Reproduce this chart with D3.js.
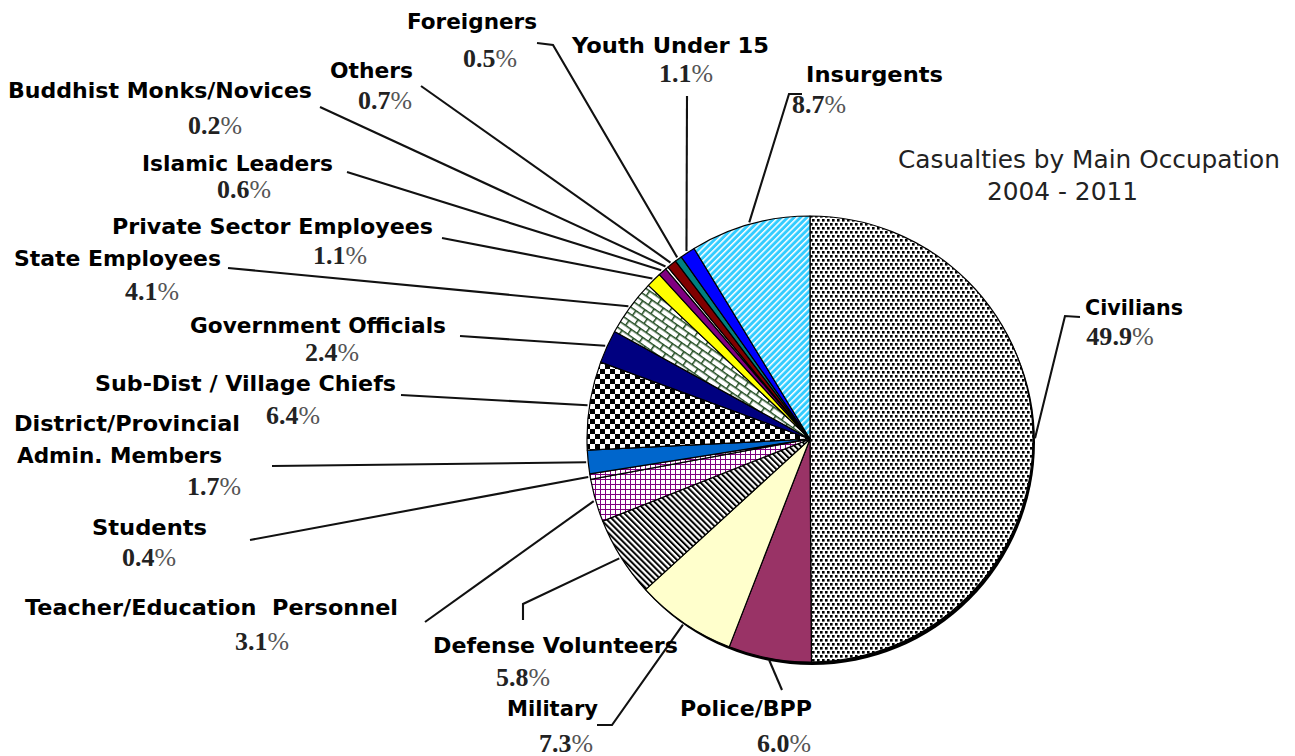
<!DOCTYPE html>
<html>
<head>
<meta charset="utf-8">
<script src="https://cdn.jsdelivr.net/npm/d3@7"></script>
<style>
  html, body { margin: 0; padding: 0; background: #fff; }
  svg { display: block; }
</style>
</head>
<body>
<svg id="chart" width="1295" height="756"></svg>
<script>
// Casualties by main occupation, 2004 - 2011 (percent of total), clockwise from 12 o'clock
const categories = [
  "Civilians", "Police/BPP", "Military", "Defense Volunteers",
  "Teacher/Education  Personnel", "Students", "District/Provincial Admin. Members",
  "Sub-Dist / Village Chiefs", "Government Officials", "State Employees",
  "Private Sector Employees", "Islamic Leaders", "Buddhist Monks/Novices",
  "Others", "Foreigners", "Youth Under 15", "Insurgents"
];
const values = [49.9, 6.0, 7.3, 5.8, 3.1, 0.4, 1.7, 6.4, 2.4, 4.1, 1.1, 0.6, 0.2, 0.7, 0.5, 1.1, 8.7];
const titleLines = ["Casualties by Main Occupation", "2004 - 2011"];

// Fill for each slice (solid colour or pattern id)
const sliceFills = [
  "url(#p-dots)", "#993366", "#FFFFCC", "url(#p-diag)",
  "url(#p-grid)", "url(#p-grid)", "#0066CC",
  "url(#p-check)", "#000080", "url(#p-brick)",
  "#FFFF00", "#800080", "#FFFFFF",
  "#800000", "#008080", "#0000FF", "url(#p-cyan)"
];

// Label placement: name lines [left x, right x, baseline], value [centre x, baseline],
// leader start point (and optional elbow) on the label side
const labelLayout = [
  { name: [[1085, 1183, 315]], value: [1120, 345], leader: [[1080, 317], [1065, 316]] },
  { name: [[680, 812, 716]], value: [784, 752], leader: [[782, 690]] },
  { name: [[507, 598, 716]], value: [566, 752], leader: [[597, 725], [612, 725]] },
  { name: [[433, 678, 653]], value: [523, 686], leader: [[523, 620], [523, 604]] },
  { name: [[25, 398, 615]], value: [262, 650], leader: [[425, 622]] },
  { name: [[92, 207, 535]], value: [149, 566], leader: [[250, 540]] },
  { name: [[14, 240, 431], [17, 222, 463]], value: [214, 495], leader: [[272, 466]] },
  { name: [[95, 396, 391]], value: [293, 424], leader: [[401, 395]] },
  { name: [[190, 446, 333]], value: [332, 361], leader: [[460, 336]] },
  { name: [[14, 221, 266]], value: [152, 300], leader: [[228, 268]] },
  { name: [[112, 433, 234]], value: [340, 264], leader: [[442, 238]] },
  { name: [[142, 333, 171]], value: [244, 198], leader: [[347, 172]] },
  { name: [[8, 312, 98]], value: [215, 134], leader: [[320, 107]] },
  { name: [[330, 413, 78]], value: [385, 109], leader: [[421, 86]] },
  { name: [[407, 537, 29]], value: [490, 67], leader: [[537, 43], [553, 45]] },
  { name: [[572, 769, 53]], value: [686, 82], leader: [[687, 96]] },
  { name: [[806, 943, 82]], value: [819, 113], leader: [[802, 94], [789, 94]] }
];
const nameLines = ["District/Provincial", "Admin. Members"];

const svg = d3.select("#chart");
const cx = 810, cy = 439, r = 223;

// ---- pattern fills ----
const defs = svg.append("defs");

// fine staggered dots
const pDots = defs.append("pattern").attr("id", "p-dots").attr("patternUnits", "userSpaceOnUse")
  .attr("width", 10).attr("height", 8);
pDots.append("rect").attr("width", 10).attr("height", 8).attr("fill", "#fff");
[[0, 0], [5, 0], [2, 4], [7, 4]].forEach(([x, y]) =>
  pDots.append("rect").attr("x", x).attr("y", y).attr("width", 2.6).attr("height", 2.6).attr("fill", "#000"));

// black downward diagonal stripes
const pDiag = defs.append("pattern").attr("id", "p-diag").attr("patternUnits", "userSpaceOnUse")
  .attr("width", 4.2).attr("height", 4.2).attr("patternTransform", "rotate(-45)");
pDiag.append("rect").attr("width", 4.2).attr("height", 4.2).attr("fill", "#fff");
pDiag.append("rect").attr("width", 2).attr("height", 4.2).attr("fill", "#000");

// purple grid
const pGrid = defs.append("pattern").attr("id", "p-grid").attr("patternUnits", "userSpaceOnUse")
  .attr("width", 5).attr("height", 5);
pGrid.append("rect").attr("width", 5).attr("height", 5).attr("fill", "#fff");
pGrid.append("rect").attr("width", 5).attr("height", 1).attr("fill", "#800080")
  .attr("shape-rendering", "crispEdges");
pGrid.append("rect").attr("width", 1).attr("height", 5).attr("fill", "#800080")
  .attr("shape-rendering", "crispEdges");

// checkerboard
const pCheck = defs.append("pattern").attr("id", "p-check").attr("patternUnits", "userSpaceOnUse")
  .attr("width", 10).attr("height", 10);
pCheck.append("rect").attr("width", 10).attr("height", 10).attr("fill", "#fff");
pCheck.append("rect").attr("width", 5).attr("height", 5).attr("fill", "#000");
pCheck.append("rect").attr("x", 5).attr("y", 5).attr("width", 5).attr("height", 5).attr("fill", "#000");

// green diagonal brick
const brickColor = "#1F4A1F";
const pBrick = defs.append("pattern").attr("id", "p-brick").attr("patternUnits", "userSpaceOnUse")
  .attr("width", 14).attr("height", 12).attr("patternTransform", "rotate(35)");
pBrick.append("rect").attr("width", 14).attr("height", 12).attr("fill", "#fff");
pBrick.append("rect").attr("width", 14).attr("height", 1.5).attr("fill", brickColor);
pBrick.append("rect").attr("y", 6).attr("width", 14).attr("height", 1.5).attr("fill", brickColor);
pBrick.append("rect").attr("x", 0).attr("y", 0).attr("width", 1.5).attr("height", 6).attr("fill", brickColor);
pBrick.append("rect").attr("x", 7).attr("y", 6).attr("width", 1.5).attr("height", 6).attr("fill", brickColor);

// cyan with white upward diagonal stripes
const pCyan = defs.append("pattern").attr("id", "p-cyan").attr("patternUnits", "userSpaceOnUse")
  .attr("width", 4.5).attr("height", 4.5).attr("patternTransform", "rotate(45)");
pCyan.append("rect").attr("width", 4.5).attr("height", 4.5).attr("fill", "#33CCFF");
pCyan.append("rect").attr("width", 1.5).attr("height", 4.5).attr("fill", "#fff");

// ---- pie ----
const pie = d3.pie().sort(null).value(d => d.value).startAngle(0).endAngle(2 * Math.PI);
const rows = categories.map((c, i) => ({ category: c, value: values[i], index: i }));
const arcs = pie(rows);

const arc = d3.arc().innerRadius(0).outerRadius(r);
const edgeArc = d3.arc().innerRadius(r + 2).outerRadius(r + 2);

const gPie = svg.append("g").attr("transform", `translate(${cx},${cy})`);

// dark rim on the lower right
gPie.append("circle").attr("cx", 2).attr("cy", 3).attr("r", r).attr("fill", "#000");

gPie.selectAll("path.slice")
  .data(arcs)
  .join("path")
  .attr("class", "slice")
  .attr("d", arc)
  .attr("fill", d => sliceFills[d.index])
  .attr("stroke", "#000")
  .attr("stroke-width", 1.2)
  .attr("stroke-linejoin", "round");

// ---- leader lines ----
const line = d3.line();
const gLeaders = svg.append("g");
arcs.forEach(d => {
  const lay = labelLayout[d.index];
  const [ex, ey] = edgeArc.centroid(d);
  const pts = lay.leader.map(p => p.slice()).concat([[cx + ex, cy + ey]]);
  gLeaders.append("path")
    .attr("d", line(pts))
    .attr("fill", "none")
    .attr("stroke", "#111")
    .attr("stroke-width", 2.1);
});

// ---- labels ----
const gLabels = svg.append("g");
const pct = d3.format(".1f");
arcs.forEach(d => {
  const lay = labelLayout[d.index];
  const lines = lay.name.length > 1 ? nameLines : [d.data.category];
  lay.name.forEach((n, k) => {
    gLabels.append("text")
      .attr("x", n[0]).attr("y", n[2])
      .attr("textLength", n[1] - n[0])
      .attr("lengthAdjust", "spacingAndGlyphs")
      .attr("font-family", "'DejaVu Sans', Verdana, sans-serif")
      .attr("font-weight", "bold")
      .attr("font-size", 21)
      .attr("fill", "#000")
      .style("white-space", "pre")
      .text(lines[k]);
  });
  const num = pct(d.data.value);
  const t = gLabels.append("text")
    .attr("x", lay.value[0]).attr("y", lay.value[1])
    .attr("text-anchor", "middle")
    .attr("textLength", 13.5 * (num.length + 1))
    .attr("lengthAdjust", "spacingAndGlyphs")
    .attr("font-family", "'Liberation Serif', 'Times New Roman', serif")
    .attr("font-weight", "bold")
    .attr("font-size", 25)
    .attr("fill", "#222");
  t.append("tspan").text(num);
  t.append("tspan").attr("font-weight", "normal").attr("fill", "#555").text("%");
});

// ---- title ----
svg.append("text")
  .attr("x", 898).attr("y", 168)
  .attr("textLength", 382).attr("lengthAdjust", "spacingAndGlyphs")
  .attr("font-family", "'DejaVu Sans', Tahoma, sans-serif")
  .attr("font-size", 24).attr("fill", "#222")
  .text(titleLines[0]);
svg.append("text")
  .attr("x", 987).attr("y", 200)
  .attr("textLength", 151).attr("lengthAdjust", "spacingAndGlyphs")
  .attr("font-family", "'DejaVu Sans', Tahoma, sans-serif")
  .attr("font-size", 24).attr("fill", "#222")
  .text(titleLines[1]);
</script>
</body>
</html>
